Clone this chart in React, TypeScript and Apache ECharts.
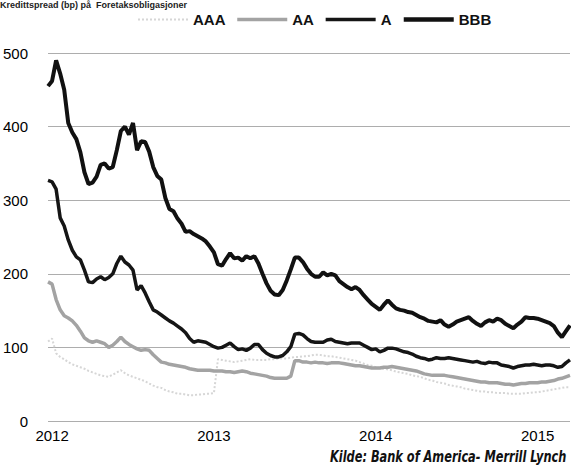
import React, { useEffect, useRef } from "react";
import * as echarts from "echarts";

// Credit spreads (basis points) by rating, 2012 – Q1 2015
const seriesNames = ["AAA", "AA", "A", "BBB"];
const yearTicks = [2012, 2013, 2014, 2015];
const yMin = 0;
const yMax = 500;
const yStep = 100;
const firstDate = 2011.975; // decimal year of the first observation
const dateStep = 0.025; // ~9 days between observations
const lastDate = 2015.2;

const aaaValues = [
  108, 112, 92, 87, 84, 80, 77, 75, 73, 71, 68, 66, 64, 62, 61, 60, 63, 66, 69, 65,
  62, 60, 58, 56, 54, 51, 48, 46, 45, 42, 40, 39, 37, 37, 36, 35, 35, 36, 36, 37,
  37, 38, 84, 83, 82, 81, 80, 81, 82, 83, 84, 83, 83, 83, 83, 84, 84, 85, 85, 85,
  86, 87, 87, 88, 88, 89, 90, 90, 89, 88, 88, 87, 86, 85, 84, 83, 82, 80, 78, 76,
  75, 73, 72, 71, 70, 69, 67, 66, 65, 64, 62, 61, 60, 58, 56, 55, 53, 52, 51, 49,
  48, 47, 46, 44, 43, 42, 41, 40, 40, 39, 39, 38, 38, 38, 37, 37, 37, 37, 38, 38,
  39, 39, 40, 41, 42, 43, 44, 45, 46, 46,
];

const aaValues = [
  189, 186, 165, 151, 143, 140, 136, 130, 122, 113, 109, 107, 109, 107, 105, 100, 103, 108, 114, 108,
  104, 101, 98, 96, 97, 96, 90, 85, 80, 79, 77, 76, 75, 74, 73, 71, 70, 69, 69, 69,
  69, 68, 68, 68, 67, 67, 66, 67, 68, 67, 65, 64, 63, 62, 61, 59, 58, 58, 58, 58,
  61, 82, 82, 80, 80, 79, 80, 79, 79, 78, 79, 79, 79, 78, 77, 76, 75, 75, 74, 73,
  72, 72, 72, 73, 73, 74, 73, 72, 71, 70, 69, 68, 66, 64, 63, 62, 62, 62, 62, 61,
  60, 59, 58, 57, 56, 55, 54, 53, 53, 52, 52, 52, 51, 50, 50, 49, 50, 51, 51, 52,
  52, 52, 53, 53, 54, 55, 57, 58, 60, 62,
];

const aValues = [
  327, 325, 315, 276, 265, 246, 232, 223, 219, 205, 189, 188, 193, 196, 192, 195, 200, 214, 224, 216,
  212, 205, 178, 184, 174, 162, 151, 148, 144, 140, 136, 133, 129, 125, 120, 112, 107, 109, 108, 107,
  104, 101, 99, 100, 103, 106, 101, 97, 98, 96, 99, 104, 104, 97, 92, 89, 87, 87, 89, 94,
  101, 118, 119, 117, 112, 108, 107, 107, 107, 110, 111, 108, 107, 106, 105, 106, 106, 106, 103, 100,
  97, 98, 94, 96, 99, 99, 98, 96, 94, 93, 91, 88, 86, 85, 83, 84, 86, 85, 85, 86,
  85, 84, 83, 82, 81, 80, 81, 79, 78, 80, 79, 79, 76, 75, 74, 72, 74, 75, 76, 76,
  77, 76, 75, 76, 76, 75, 73, 74, 79, 83,
];

const bbbValues = [
  455, 462, 490, 472, 450, 405, 392, 383, 365, 338, 322, 324, 332, 348, 350, 343, 345, 368, 394, 400,
  389, 405, 368, 380, 379, 366, 345, 333, 328, 303, 288, 285, 275, 268, 257, 258, 254, 251, 248, 244,
  237, 229, 213, 211, 220, 228, 221, 222, 218, 224, 221, 224, 214, 200, 187, 177, 172, 171, 178, 191,
  206, 222, 222, 216, 207, 200, 196, 196, 202, 198, 200, 198, 190, 186, 182, 179, 182, 178, 171, 165,
  159, 155, 151, 158, 164, 158, 153, 151, 150, 148, 147, 144, 141, 139, 136, 135, 134, 137, 131, 128,
  131, 135, 137, 139, 141, 136, 132, 129, 134, 137, 135, 139, 137, 132, 129, 126, 131, 135, 141, 140,
  140, 139, 137, 135, 133, 129, 120, 114, 122, 130,
];

const titleText = "Kredittspread (bp) på  Foretaksobligasjoner";
const sourceText = "Kilde: Bank of America- Merrill Lynch";

const dates = bbbValues.map((_, i) => +(firstDate + i * dateStep).toFixed(3));
const pairs = (vals: number[]) => vals.map((v, i) => [dates[i], v]);

const FONT = "'Liberation Sans', Arial, sans-serif";

export default function App() {
  const ref = useRef<HTMLDivElement>(null);

  useEffect(() => {
    document.body.style.margin = "0";
    if (!ref.current) return;
    const chart = echarts.init(ref.current, null, { renderer: "svg" });

    const lineStyles = [
      { color: "#d6d6d6", width: 2, type: [2, 2] as any },
      { color: "#a3a3a3", width: 3.5, type: "solid" as any },
      { color: "#151515", width: 3.5, type: "solid" as any },
      { color: "#111111", width: 4, type: "solid" as any },
    ];
    const legendWidths = [2, 3.5, 3.5, 4.5];
    const valueSets = [aaaValues, aaValues, aValues, bbbValues];

    chart.setOption({
      animation: false,
      backgroundColor: "#ffffff",
      textStyle: { fontFamily: FONT },
      grid: { left: 48, right: 1, top: 53, bottom: 44, containLabel: false },
      legend: {
        top: 7,
        left: 132,
        itemWidth: 50,
        itemHeight: 14,
        itemGap: 10,
        itemStyle: { opacity: 0 },
        textStyle: { fontSize: 15, fontWeight: "bold", color: "#111", fontFamily: FONT },
        data: seriesNames.map((name, k) => ({
          name,
          lineStyle: { width: legendWidths[k] },
        })),
      },
      xAxis: {
        type: "value",
        min: firstDate,
        max: lastDate,
        axisLine: { show: false },
        axisTick: { show: false },
        splitLine: { show: false },
        axisLabel: {
          customValues: yearTicks,
          formatter: (v: number) => String(Math.round(v)),
          fontSize: 15,
          color: "#000",
          margin: 7,
          fontFamily: FONT,
        },
      },
      yAxis: {
        type: "value",
        min: yMin,
        max: yMax,
        interval: yStep,
        axisLine: { show: false },
        axisTick: { show: false },
        axisLabel: { fontSize: 15, color: "#000", margin: 20, fontFamily: FONT },
        splitLine: { lineStyle: { color: "#adadad", width: 1.2 } },
      },
      graphic: [
        {
          type: "text",
          x: 0,
          y: 0,
          style: {
            text: titleText,
            font: `bold 9px ${FONT}`,
            fill: "#222",
          },
        },
        {
          type: "text",
          x: 330,
          y: 448,
          scaleX: 0.79,
          style: {
            text: sourceText,
            font: `italic bold 16px 'DejaVu Sans Condensed', sans-serif`,
            fill: "#111",
          },
        },
      ],
      series: seriesNames.map((name, k) => ({
        name,
        type: "line",
        data: pairs(valueSets[k]),
        symbol: "none",
        lineStyle: lineStyles[k],
        itemStyle: { color: lineStyles[k].color },
        z: 2 + k,
      })),
    });

    return () => chart.dispose();
  }, []);

  return <div ref={ref} style={{ width: 571, height: 465 }} />;
}
